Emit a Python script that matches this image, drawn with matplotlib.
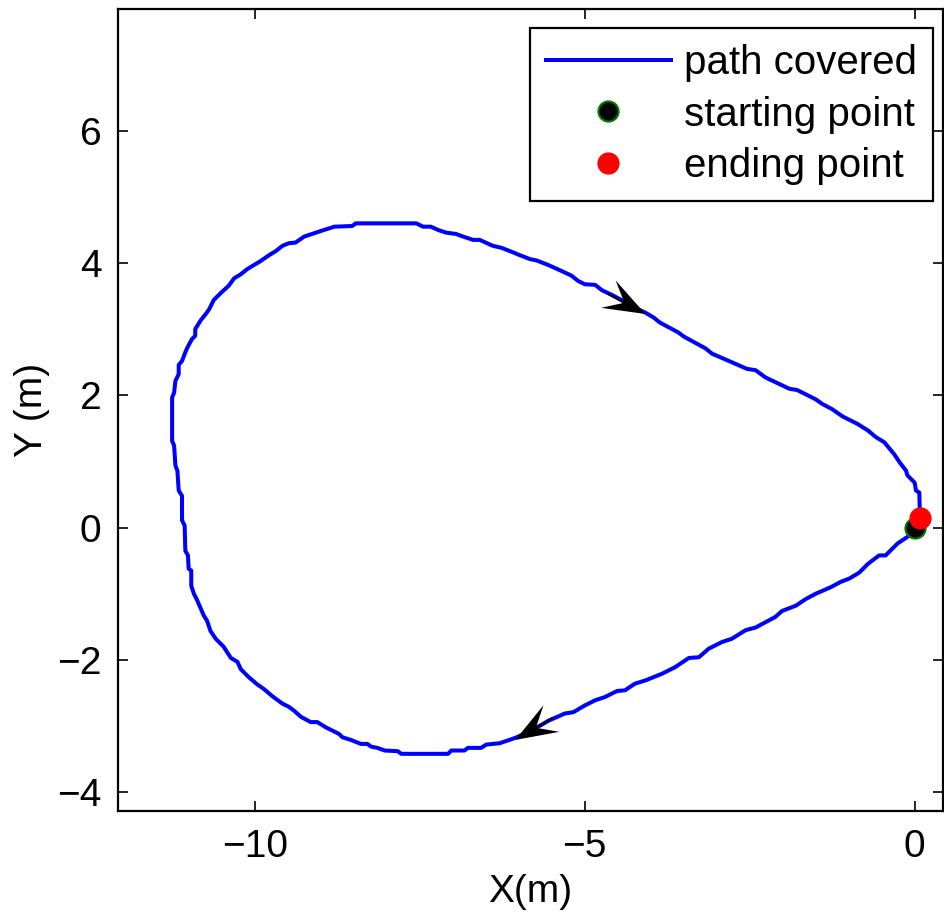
import numpy as np
import matplotlib
matplotlib.use("Agg")
from matplotlib import pyplot as plt

plt.rcParams['font.family'] = ['Liberation Sans', 'DejaVu Sans']

# trajectory (m), clockwise from the start point
path_x = [0.00, -0.08, -0.26, -0.44, -0.54, -0.71, -0.84, -0.99, -1.12, -1.27,
          -1.50, -1.65, -1.80, -2.01, -2.11, -2.41, -2.56, -2.77, -2.92, -3.12,
          -3.27, -3.42, -3.63, -3.83, -4.08, -4.24, -4.39, -4.51, -4.69, -4.84,
          -5.00, -5.17, -5.30, -5.55, -5.65, -5.86, -6.03, -6.14, -6.29, -6.49,
          -6.57, -6.77, -6.82, -7.02, -7.07, -7.78, -7.83, -8.03, -8.14, -8.24,
          -8.29, -8.39, -8.54, -8.67, -8.72, -8.92, -9.05, -9.15, -9.30, -9.40,
          -9.48, -9.58, -9.73, -9.86, -9.96, -10.09, -10.21, -10.26, -10.36, -10.47,
          -10.59, -10.67, -10.72, -10.77, -10.87, -10.92, -10.96, -10.96, -11.00, -11.01,
          -11.05, -11.06, -11.10, -11.10, -11.15, -11.17, -11.20, -11.22, -11.25, -11.25,
          -11.22, -11.20, -11.15, -11.15, -11.10, -11.05, -11.02, -10.95, -10.90, -10.90,
          -10.82, -10.74, -10.69, -10.62, -10.52, -10.39, -10.31, -10.21, -10.11, -10.01,
          -9.91, -9.78, -9.68, -9.58, -9.48, -9.38, -9.25, -9.10, -8.95, -8.79,
          -8.52, -8.47, -7.55, -7.45, -7.33, -7.22, -7.10, -6.95, -6.84, -6.69,
          -6.59, -6.39, -6.26, -6.08, -6.01, -5.83, -5.73, -5.55, -5.35, -5.20,
          -5.10, -5.00, -4.84, -4.74, -4.59, -4.44, -4.29, -4.08, -3.96, -3.86,
          -3.58, -3.50, -3.17, -3.07, -2.54, -2.41, -2.26, -1.90, -1.78, -1.50,
          -1.40, -1.25, -1.09, -0.87, -0.71, -0.59, -0.46, -0.31, -0.23, -0.13,
          -0.11, 0.00, 0.02, 0.07, 0.08]
path_y = [0.00, -0.12, -0.24, -0.42, -0.42, -0.55, -0.68, -0.77, -0.82, -0.90,
          -1.00, -1.08, -1.18, -1.26, -1.35, -1.51, -1.55, -1.68, -1.73, -1.83,
          -1.96, -1.97, -2.11, -2.21, -2.31, -2.36, -2.46, -2.47, -2.56, -2.61,
          -2.69, -2.79, -2.81, -2.92, -2.98, -3.09, -3.17, -3.21, -3.26, -3.28,
          -3.33, -3.33, -3.37, -3.37, -3.42, -3.42, -3.38, -3.37, -3.33, -3.31,
          -3.27, -3.27, -3.21, -3.17, -3.12, -3.02, -2.94, -2.94, -2.86, -2.77,
          -2.71, -2.66, -2.55, -2.44, -2.37, -2.26, -2.14, -2.03, -1.97, -1.80,
          -1.68, -1.56, -1.41, -1.33, -1.10, -1.00, -0.88, -0.65, -0.62, -0.42,
          -0.35, 0.03, 0.11, 0.48, 0.56, 0.86, 0.94, 1.24, 1.31, 1.97,
          2.04, 2.22, 2.32, 2.46, 2.52, 2.65, 2.72, 2.85, 2.90, 3.00,
          3.13, 3.23, 3.30, 3.44, 3.54, 3.66, 3.77, 3.83, 3.91, 3.97,
          4.03, 4.12, 4.18, 4.26, 4.30, 4.31, 4.40, 4.45, 4.50, 4.55,
          4.56, 4.60, 4.60, 4.55, 4.55, 4.50, 4.46, 4.44, 4.40, 4.35,
          4.35, 4.26, 4.23, 4.16, 4.13, 4.06, 4.04, 3.97, 3.88, 3.81,
          3.73, 3.68, 3.67, 3.59, 3.52, 3.44, 3.35, 3.25, 3.18, 3.10,
          2.95, 2.89, 2.71, 2.63, 2.40, 2.38, 2.27, 2.10, 2.08, 1.94,
          1.87, 1.79, 1.68, 1.57, 1.47, 1.37, 1.29, 1.11, 0.99, 0.86,
          0.79, 0.68, 0.56, 0.53, 0.16]

start_x, start_y = 0.0, 0.0
end_x, end_y = 0.08, 0.15

# direction arrows along the path: tip position and heading
arrow_x = [-4.08, -6.05]
arrow_y = [3.23, -3.21]
arrow_dx = [0.88, -0.86]
arrow_dy = [-0.47, -0.51]

x_ticks = [-10, -5, 0]
y_ticks = [-4, -2, 0, 2, 4, 6]

fig = plt.figure(figsize=(9.44, 9.24), dpi=100)
ax = fig.add_axes([0.125, 0.1226, 0.874, 0.8676])

ax.plot(path_x, path_y, color=(0, 0, 1), lw=2.9, label='path covered', zorder=2)
ax.plot(start_x, start_y, 'o', color='black', mec='green', mew=1.5, ms=14.5,
        label='starting point', zorder=3)
ax.plot(end_x, end_y, 'o', color='red', mec='red', ms=15,
        label='ending point', zorder=4)

# arrowheads only: the arrow is just as long as its head
ah_len = 0.65
u = np.array(arrow_dx) / np.hypot(arrow_dx, arrow_dy) * ah_len
v = np.array(arrow_dy) / np.hypot(arrow_dx, arrow_dy) * ah_len
ax.quiver(arrow_x, arrow_y, u, v, angles='xy', scale_units='xy', scale=1,
          pivot='tip', units='dots', width=2, headwidth=15.5, headlength=21,
          headaxislength=12.5, color='black', zorder=5)

ax.set_xlim(-12.07, 0.43)
ax.set_ylim(-4.28, 7.84)
ax.set_xticks(x_ticks)
ax.set_yticks(y_ticks)
ax.set_xticklabels([str(t).replace('-', '\u2212') for t in x_ticks])
ax.set_yticklabels([str(t).replace('-', '\u2212') for t in y_ticks])

fs = 28
ax.tick_params(direction='in', top=True, right=True, length=7, width=1.2,
               labelsize=fs)
ax.tick_params(axis='x', pad=13)
ax.tick_params(axis='y', pad=12)
for s in ax.spines.values():
    s.set_linewidth(1.6)

ax.set_xlabel('X(m)', fontsize=fs, labelpad=7)
ax.set_ylabel('Y (m)', fontsize=fs, labelpad=5)

leg = ax.legend(loc='upper right', bbox_to_anchor=(933 / 944, 1 - 27.7 / 924),
                bbox_transform=fig.transFigure, borderaxespad=0,
                fontsize=29, handlelength=3.1, handletextpad=0.33,
                borderpad=0.4, labelspacing=0.34, fancybox=False,
                framealpha=1, edgecolor='black')
leg.get_frame().set_linewidth(1.6)

fig.savefig('out.png', dpi=100)
